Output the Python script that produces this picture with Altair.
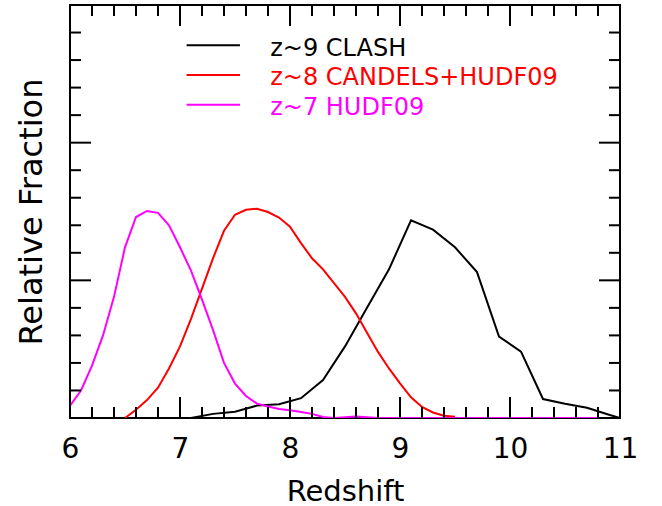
import altair as alt
import pandas as pd
import numpy as np

# ---- data ----
clash_z = [6.0, 7.0, 7.1, 7.3, 7.5, 7.7, 7.9, 8.1, 8.3, 8.5, 8.7, 8.9, 9.1, 9.3, 9.5, 9.7,
           9.9, 10.1, 10.3, 10.5, 10.7, 10.9, 11.0]
clash_f = [0.0, 0.0, 0.0, 0.0015, 0.0023, 0.0045, 0.005, 0.0072, 0.0138, 0.026, 0.040, 0.054,
           0.0718, 0.0684, 0.062, 0.053, 0.0296, 0.0241, 0.0069, 0.0052, 0.0037, 0.0012, 0.0]

candels_z = [6.5, 6.6, 6.7, 6.8, 6.9, 7.0, 7.1, 7.2, 7.3, 7.4, 7.5, 7.6, 7.7, 7.8, 7.9, 8.0,
             8.1, 8.2, 8.3, 8.4, 8.5, 8.6, 8.7, 8.8, 8.9, 9.0, 9.1, 9.2, 9.3, 9.4, 9.5]
candels_f = [0.0, 0.003, 0.0065, 0.011, 0.018, 0.026, 0.036, 0.047, 0.058, 0.068, 0.0738,
             0.0756, 0.076, 0.0748, 0.0728, 0.0695, 0.0635, 0.058, 0.054, 0.049, 0.044, 0.038,
             0.031, 0.024, 0.018, 0.0126, 0.0075, 0.004, 0.002, 0.0008, 0.0005]

hudf_z = [6.0, 6.1, 6.2, 6.3, 6.4, 6.5, 6.6, 6.7, 6.8, 6.9, 7.0, 7.1, 7.2, 7.3, 7.4, 7.5,
          7.6, 7.7, 7.8, 7.9, 8.0, 8.1, 8.2, 8.3, 8.4, 8.5, 8.6, 8.7, 8.8, 9.0, 10.0, 11.0]
hudf_f = [0.0045, 0.010, 0.019, 0.030, 0.044, 0.062, 0.073, 0.0752, 0.0745, 0.070, 0.062,
          0.0535, 0.043, 0.032, 0.020, 0.0125, 0.008, 0.0052, 0.0042, 0.0033, 0.0028, 0.0022,
          0.0015, 0.0004, 0.0, 0.0003, 0.0005, 0.0003, 0.0, 0.0, 0.0, 0.0]

legend_labels = ["z~9 CLASH", "z~8 CANDELS+HUDF09", "z~7 HUDF09"]
legend_colors = ["black", "#ff0000", "#ff00ff"]

x_major = [6, 7, 8, 9, 10, 11]
y_major = [0.0, 0.05, 0.10, 0.15]

W, H = 550, 413
FONT = "DejaVu Sans"
MAJ, MIN = 21, 11

xs = alt.Scale(domain=[6, 11], nice=False, zero=False)
ys = alt.Scale(domain=[0, 0.15], nice=False, zero=False)

x_axis = alt.Axis(values=x_major, format="d", ticks=False, tickSize=0, domain=False, grid=False,
                  labelFontSize=28, labelFont=FONT, labelColor="black", labelPadding=17,
                  labelFlush=False,
                  title="Redshift", titleFont=FONT, titleFontSize=29, titleFontWeight="normal",
                  titleColor="black", titleX=W / 2, titleY=82, titleBaseline="alphabetic",
                  titleAlign="center")
y_axis = alt.Axis(labels=False, ticks=False, tickSize=0, domain=False, grid=False,
                  title="Relative Fraction", titleFont=FONT, titleFontSize=32,
                  titleFontWeight="normal", titleColor="black", titleX=-29, titleY=H / 2,
                  titleBaseline="alphabetic", titleAlign="center", titleAngle=270)


def series(zs, fs, color):
    df = pd.DataFrame({"z": zs, "f": fs})
    return alt.Chart(df).mark_line(color=color, strokeWidth=2, clip=True).encode(
        x=alt.X("z:Q", scale=xs, axis=x_axis),
        y=alt.Y("f:Q", scale=ys, axis=y_axis),
    )


# tick marks drawn inward on all four sides
x_minor = [v for v in np.round(np.arange(6.0, 11.0001, 0.2), 2) if abs(v - round(v)) > 1e-6]
y_minor = [v for v in np.round(np.arange(0.0, 0.15001, 0.01), 3)
           if min(abs(v - m) for m in y_major) > 1e-6]

tick_layers = []
for vals, L in [(x_major, MAJ), (x_minor, MIN)]:
    d = pd.DataFrame({"z": vals})
    tick_layers.append(alt.Chart(d).mark_rule(color="black", strokeWidth=2).encode(
        x=alt.X("z:Q", scale=xs, axis=x_axis), y=alt.value(H), y2=alt.value(H - L)))
    tick_layers.append(alt.Chart(d).mark_rule(color="black", strokeWidth=2).encode(
        x=alt.X("z:Q", scale=xs, axis=x_axis), y=alt.value(0), y2=alt.value(L)))
for vals, L in [(y_major, MAJ), (y_minor, MIN)]:
    d = pd.DataFrame({"f": vals})
    tick_layers.append(alt.Chart(d).mark_rule(color="black", strokeWidth=2).encode(
        y=alt.Y("f:Q", scale=ys, axis=y_axis), x=alt.value(0), x2=alt.value(L)))
    tick_layers.append(alt.Chart(d).mark_rule(color="black", strokeWidth=2).encode(
        y=alt.Y("f:Q", scale=ys, axis=y_axis), x=alt.value(W), x2=alt.value(W - L)))

# legend (placed in data coordinates)
leg = pd.DataFrame({
    "label": legend_labels,
    "color": legend_colors,
    "row": [0, 1, 2],
})
leg_lines = alt.Chart(leg).transform_calculate(
    lx1="7.06", lx2="7.545", ly="0.1354 - datum.row * 0.0108"
).mark_rule(strokeWidth=2).encode(
    x=alt.X("lx1:Q", scale=xs, axis=x_axis), x2="lx2:Q",
    y=alt.Y("ly:Q", scale=ys, axis=y_axis),
    color=alt.Color("color:N", scale=None),
)
leg_text = alt.Chart(leg).transform_calculate(
    tx="7.82", ty="0.1316 - datum.row * 0.0108"
).mark_text(align="left", baseline="alphabetic", fontSize=24, font=FONT).encode(
    x=alt.X("tx:Q", scale=xs, axis=x_axis),
    y=alt.Y("ty:Q", scale=ys, axis=y_axis),
    text="label:N",
    color=alt.Color("color:N", scale=None),
)

chart = alt.layer(
    series(clash_z, clash_f, "black"),
    series(candels_z, candels_f, "#ff0000"),
    series(hudf_z, hudf_f, "#ff00ff"),
    *tick_layers,
    leg_lines,
    leg_text,
).properties(
    width=W, height=H,
    autosize=alt.AutoSizeParams(type="none"),
    padding={"left": 70, "top": 5, "right": 42, "bottom": 88},
    background="white",
).configure_view(stroke="black", strokeWidth=2)

chart.save("out.html", embed_options={"renderer": "svg", "actions": False})
